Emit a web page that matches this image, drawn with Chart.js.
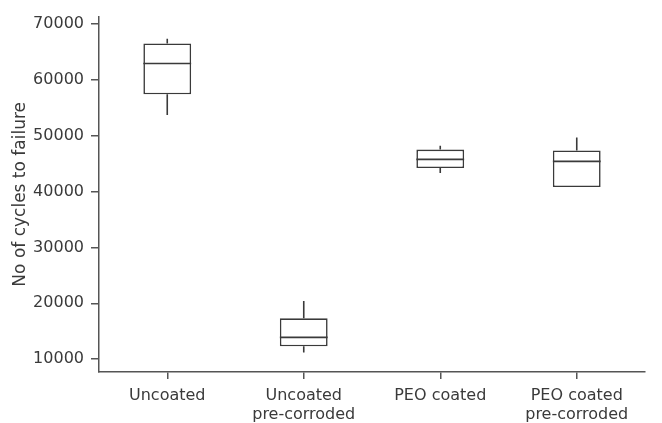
<!DOCTYPE html>
<html>
<head>
<meta charset="utf-8">
<script src="https://cdn.jsdelivr.net/npm/chart.js@4/dist/chart.umd.min.js"></script>
<style>
	html, body {margin: 0; padding: 0; background: #fff;}
	#wrap {width: 662px; height: 423px;}
</style>
</head>
<body>
<div id="wrap"><canvas id="chart"></canvas></div>
<script>
// Box plot values
const categories = [['Uncoated'], ['Uncoated', 'pre-corroded'], ['PEO coated'], ['PEO coated', 'pre-corroded']];
const minValues = [53700, 11200, 43300, 40800];
const q1Values = [57400, 12300, 44200, 40800];
const medianValues = [62900, 13900, 45750, 45400];
const q3Values = [66500, 17300, 47500, 47350];
const maxValues = [67350, 20400, 48200, 49650];
const yTicks = [10000, 20000, 30000, 40000, 50000, 60000, 70000];

const ink = '#3a3a3a',
	axisColor = '#555',
	font = {family: 'DejaVu Sans', size: 16};

// median lines and whiskers, drawn on top of the box bars
const boxExtras = {
	id: 'boxExtras',
	afterDatasetsDraw(chart) {
		const ctx = chart.ctx,
			y = chart.scales.y,
			meta = chart.getDatasetMeta(0);
		ctx.save();
		ctx.strokeStyle = ink;
		ctx.lineWidth = 1.6;
		meta.data.forEach((bar, i) => {
			const half = bar.width / 2;
			ctx.beginPath();
			ctx.moveTo(bar.x - half, y.getPixelForValue(medianValues[i]));
			ctx.lineTo(bar.x + half, y.getPixelForValue(medianValues[i]));
			ctx.moveTo(bar.x, y.getPixelForValue(q3Values[i]));
			ctx.lineTo(bar.x, y.getPixelForValue(maxValues[i]));
			ctx.moveTo(bar.x, y.getPixelForValue(q1Values[i]));
			ctx.lineTo(bar.x, y.getPixelForValue(minValues[i]));
			ctx.stroke();
		});
		ctx.restore();
	}
};

new Chart(
	document.getElementById('chart'),
	{
		type: 'bar',
		data: {
			labels: categories,
			datasets: [{
				label: 'Cycles to failure',
				data: q1Values.map((q1, i) => [q1, q3Values[i]]),
				backgroundColor: '#fff',
				borderColor: ink,
				borderWidth: 1.6,
				borderSkipped: false,
				barPercentage: 0.35,
				categoryPercentage: 1
			}]
		},
		options: {
			responsive: true,
			maintainAspectRatio: false,
			animation: false,
			layout: {padding: {left: 8, right: 17, top: 12, bottom: 0}},
			plugins: {
				legend: {display: false},
				tooltip: {enabled: false}
			},
			scales: {
				x: {
					offset: true,
					grid: {display: true, offset: false, drawOnChartArea: false, tickLength: 7, color: axisColor, lineWidth: 1.5},
					border: {display: true, color: axisColor, width: 1.5},
					ticks: {color: ink, font: font, padding: 7, maxRotation: 0, autoSkip: false},
					afterFit: (s) => { s.height = 51; }
				},
				y: {
					min: 7700,
					max: 71300,
					afterBuildTicks: (s) => { s.ticks = yTicks.map((v) => ({value: v})); },
					grid: {display: true, drawOnChartArea: false, tickLength: 8, color: axisColor, lineWidth: 1.5},
					border: {display: true, color: axisColor, width: 1.5},
					ticks: {color: ink, font: font, padding: 7, callback: (v) => String(v)},
					title: {
						display: true,
						text: 'No of cycles to failure',
						color: ink,
						font: {family: 'DejaVu Sans', size: 17},
						padding: {top: 2, bottom: 2}
					},
					afterFit: (s) => { s.width = 91; }
				}
			}
		},
		plugins: [boxExtras]
	}
);
</script>
</body>
</html>
